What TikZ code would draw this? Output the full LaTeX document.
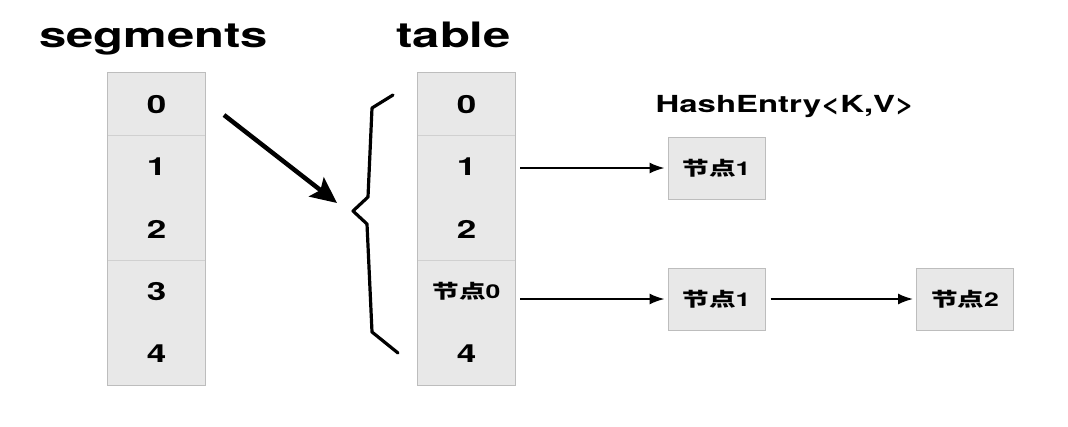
\documentclass[tikz,border=0pt]{standalone}
\usepackage{fontspec}
\usepackage{graphicx}
\setmainfont{TeX Gyre Heros}
\newfontfamily\cjk{Noto Sans CJK SC}
\usetikzlibrary{arrows.meta}

\definecolor{cellfill}{HTML}{E8E8E8}
\definecolor{celledge}{HTML}{BDBDBD}
\definecolor{cellsep}{HTML}{D0D0D0}

% wide letters, as in the picture
\newcommand{\wide}[1]{\scalebox{1.4}[1]{#1}}

\tikzset{
  title/.style={font=\fontsize{35}{40}\selectfont\bfseries, anchor=base, inner sep=0pt},
  cell/.style={minimum width=97pt, minimum height=62.4pt, inner sep=0pt,
    fill=cellfill, font=\fontsize{25}{30}\selectfont\bfseries},
  entry/.style={minimum width=97pt, minimum height=62pt, inner sep=0pt,
    fill=cellfill, draw=celledge, line width=1pt,
    font=\fontsize{19}{23}\selectfont\bfseries},
  link/.style={-{Latex[length=15pt,width=11pt]}, line width=1.7pt,
    shorten <=5pt, shorten >=3pt}
}

\begin{document}
\begin{tikzpicture}[x=1pt, y=-1pt]
      \useasboundingbox (0,0) rectangle (1068,426);

      % ============================================================
      % LINKS: segments
      % ============================================================

      \node[title] (segtitle) at (153.5,47) {\wide{segments}};

      \node[cell] (s0) at (156.5,104.2) {\wide{0}};
      \node[cell] (s1) at (156.5,166.6) {\wide{1}};
      \node[cell] (s2) at (156.5,229.0) {\wide{2}};
      \node[cell] (s3) at (156.5,291.4) {\wide{3}};
      \node[cell] (s4) at (156.5,353.8) {\wide{4}};

      \draw[celledge, line width=1pt] (s0.north west) rectangle (s4.south east);
      \draw[cellsep] (s0.south west) -- (s0.south east);
      \draw[cellsep] (s2.south west) -- (s2.south east);

      % Pijl naar table
      \coordinate (bigfrom) at (224,115);
      \coordinate (bigto) at (337,203);
      \draw[-{Stealth[length=26pt,width=24pt,inset=5pt]}, line width=4.5pt]
        (bigfrom) -- (bigto);

      % ============================================================
      % MIDDEN: table
      % ============================================================

      \node[title] (tabtitle) at (453.5,47) {\wide{table}};

      \node[cell] (t0) at (466.5,104.2) {\wide{0}};
      \node[cell] (t1) at (466.5,166.6) {\wide{1}};
      \node[cell] (t2) at (466.5,229.0) {\wide{2}};
      \node[cell] (t3) at (466.5,291.4)
        {\wide{\fontsize{19}{23}\selectfont{\cjk 节点}0}};
      \node[cell] (t4) at (466.5,353.8) {\wide{4}};

      \draw[celledge, line width=1pt] (t0.north west) rectangle (t4.south east);
      \draw[cellsep] (t0.south west) -- (t0.south east);
      \draw[cellsep] (t2.south west) -- (t2.south east);

      % Accolade
      \draw[line width=3.2pt, line join=round, line cap=round]
        (393,95) -- (372,108) -- (368,197) -- (353,211)
        -- (367,224) -- (372,332) -- (398,353);

      % ============================================================
      % RECHTS: HashEntry
      % ============================================================

      \node[font=\fontsize{23.5}{28}\selectfont\bfseries, anchor=base, inner sep=0pt]
        (hashlabel) at (785,112) {\wide{HashEntry<K,V>}};

      \node[entry] (hn1) at (716.5,168) {\wide{{\cjk 节点}1}};
      \node[entry] (hn2) at (716.5,299) {\wide{{\cjk 节点}1}};
      \node[entry] (hn3) at (965,299) {\wide{{\cjk 节点}2}};

      \draw[link] (t1.east |- hn1.west) -- (hn1.west);
      \draw[link] (t3.east |- hn2.west) -- (hn2.west);
      \draw[link] (hn2.east) -- (hn3.west);

\end{tikzpicture}
\end{document}
